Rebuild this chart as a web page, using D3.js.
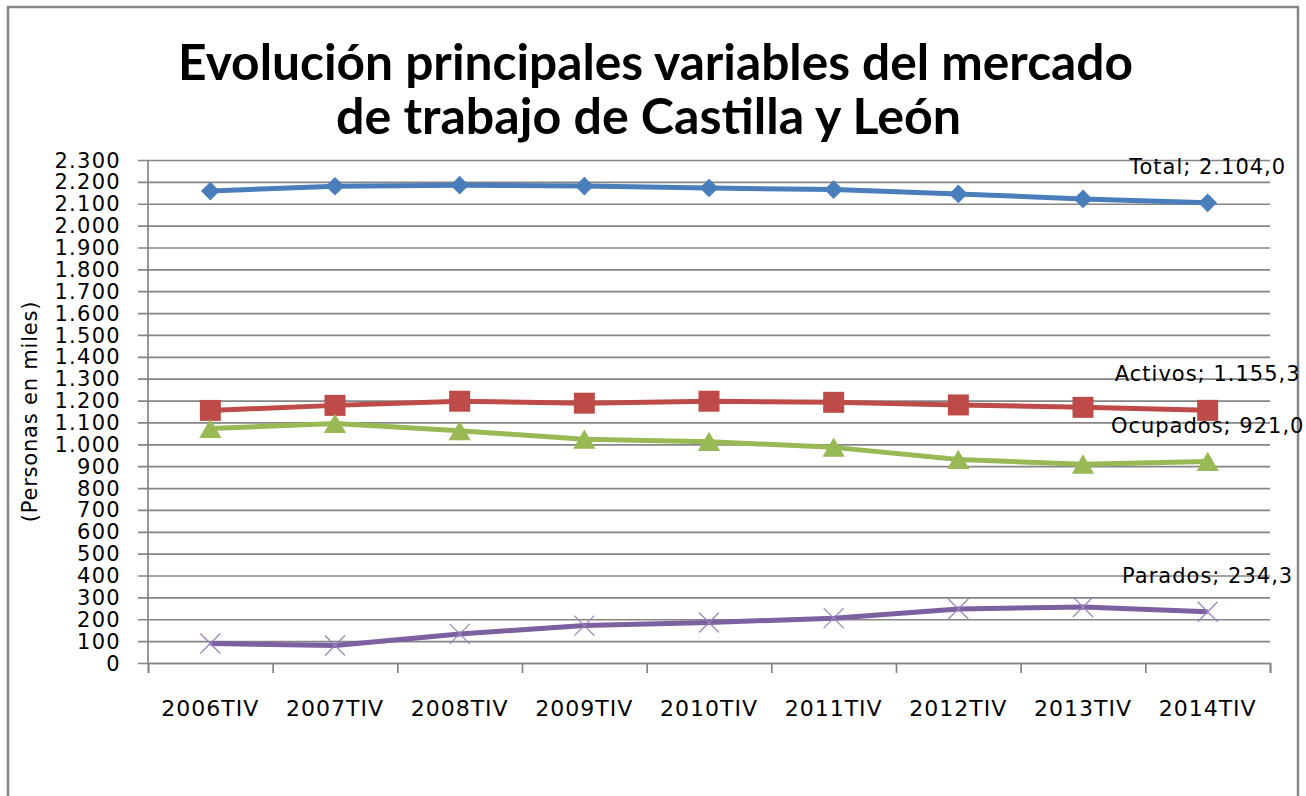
<!DOCTYPE html>
<html>
<head>
<meta charset="utf-8">
<script src="https://cdn.jsdelivr.net/npm/d3@7"></script>
<style>
body { margin: 0; background: #fff; }
text { font-family: "DejaVu Sans", sans-serif; fill: #000; }
</style>
</head>
<body>
<svg id="chart" width="1306" height="796"></svg>
<script>
let categories = ['2006TIV', '2007TIV', '2008TIV', '2009TIV', '2010TIV', '2011TIV', '2012TIV', '2013TIV', '2014TIV']

let total    = [2158, 2180, 2185, 2181, 2172, 2165, 2145, 2122, 2104.0]
let activos  = [1155, 1178, 1197, 1188, 1197, 1192, 1180, 1169, 1155.3]
let ocupados = [1072, 1095, 1062, 1023, 1012, 986, 930, 909, 921.0]
let parados  = [89, 80, 133, 171, 185, 205, 247, 256, 234.3]

let yTicks = d3.range(0, 2301, 100)

let titleLines = ['Evolución principales variables del mercado', 'de trabajo de Castilla y León']
let yTitle = '(Personas en miles)'

const series = [
    { name: 'Total',    values: total,    color: '#4a7ebb', symbol: 'diamond' },
    { name: 'Activos',  values: activos,  color: '#be4b48', symbol: 'square' },
    { name: 'Ocupados', values: ocupados, color: '#98b954', symbol: 'triangle' },
    { name: 'Parados',  values: parados,  color: '#7d60a0', symbol: 'x' }
]

const es = d3.formatLocale({ decimal: ',', thousands: '.', grouping: [3], currency: ['', ' €'] })
const tickFmt = es.format(',')
const labelFmt = es.format(',.1f')

let svg = d3.select('#chart')

const plotLeft = 148, plotRight = 1270, plotTop = 160, plotBottom = 663

// outer frame
svg.append('rect')
    .attr('x', 8).attr('y', 7)
    .attr('width', 1290).attr('height', 820)
    .attr('fill', 'none')
    .attr('stroke', '#878787')
    .attr('stroke-width', 2.5)

// title
svg.selectAll('.title')
    .data(titleLines)
    .enter()
    .append('text')
    .attr('class', 'title')
    .attr('x', (d, i) => i === 0 ? 178 : 336)
    .attr('y', (d, i) => i === 0 ? 80 : 134)
    .attr('textLength', (d, i) => i === 0 ? 955 : 625)
    .attr('lengthAdjust', 'spacingAndGlyphs')
    .style('font-family', 'Lato, sans-serif')
    .style('font-weight', 'bold')
    .style('font-size', '50px')
    .text(d => d)

let x = d3.scaleBand().domain(categories).range([plotLeft, plotRight])
let xEdge = d3.scaleLinear().domain([0, categories.length]).range([plotLeft, plotRight])
let y = d3.scaleLinear().domain([0, 2300]).range([plotBottom, plotTop])

// gridlines (they run through the outside tick marks)
svg.append('g')
    .attr('transform', `translate(${plotRight},0)`)
    .call(d3.axisLeft(y).tickValues(yTicks).tickSize(plotRight - 138).tickFormat(''))
    .call(g => g.select('.domain').remove())
    .call(g => g.selectAll('line').attr('stroke', '#858585').attr('stroke-width', 1.7))

// y axis line + labels
svg.append('line')
    .attr('x1', plotLeft).attr('x2', plotLeft)
    .attr('y1', y(2300)).attr('y2', y(0))
    .attr('stroke', '#858585').attr('stroke-width', 1.7)

svg.append('g')
    .selectAll('text')
    .data(yTicks)
    .enter()
    .append('text')
    .attr('x', 121)
    .attr('y', d => y(d))
    .attr('dy', '0.36em')
    .attr('text-anchor', 'end')
    .style('font-size', '21px')
    .style('letter-spacing', '1.3px')
    .text(d => tickFmt(d))

svg.append('text')
    .attr('transform', `translate(37,${(y(0) + y(2300)) / 2}) rotate(-90)`)
    .attr('text-anchor', 'middle')
    .style('font-size', '21px')
    .style('letter-spacing', '0.8px')
    .text(yTitle)

// x axis
svg.append('g')
    .attr('transform', `translate(0,${plotBottom})`)
    .call(d3.axisBottom(xEdge).tickValues(d3.range(categories.length + 1)).tickSize(10).tickFormat(''))
    .call(g => g.select('.domain').attr('stroke', '#858585').attr('stroke-width', 1.7))
    .call(g => g.selectAll('line').attr('stroke', '#858585').attr('stroke-width', 1.7))

svg.append('g')
    .selectAll('text')
    .data(categories)
    .enter()
    .append('text')
    .attr('x', d => x(d) + x.bandwidth() / 2)
    .attr('y', 716)
    .attr('text-anchor', 'middle')
    .style('font-size', '22px')
    .style('letter-spacing', '1px')
    .text(d => d)

// lines
let line = d3.line()
    .x((d, i) => x(categories[i]) + x.bandwidth() / 2)
    .y(d => y(d))

const symbols = {
    diamond:  { type: d3.symbolSquare,   size: 175, rotate: 45, dy: 0 },
    square:   { type: d3.symbolSquare,   size: 441, rotate: 0,  dy: 0 },
    triangle: { type: d3.symbolTriangle, size: 215, rotate: 0,  dy: 3 },
    x:        { type: d3.symbolX,        size: 263, rotate: 0,  dy: 0 }
}

series.forEach(s => {
    svg.append('path')
        .datum(s.values)
        .attr('d', line)
        .attr('fill', 'none')
        .attr('stroke', s.color)
        .attr('stroke-width', 5)
        .attr('stroke-linejoin', 'round')

    const sym = symbols[s.symbol]
    svg.append('g')
        .selectAll('path')
        .data(s.values)
        .enter()
        .append('path')
        .attr('transform', (d, i) =>
            `translate(${x(categories[i]) + x.bandwidth() / 2},${y(d) + sym.dy}) rotate(${sym.rotate})`)
        .attr('d', d3.symbol(sym.type, sym.size))
        .attr('fill', s.symbol === 'x' ? 'none' : s.color)
        .attr('stroke', s.symbol === 'x' ? '#9883bd' : 'none')
        .attr('stroke-width', 1.2)

    // data label on last point
    const last = s.values.length - 1
    svg.append('text')
        .attr('x', x(categories[last]) + x.bandwidth() / 2)
        .attr('y', y(s.values[last]) - 29)
        .attr('text-anchor', 'middle')
        .style('font-size', '21px')
        .style('letter-spacing', '1px')
        .text(`${s.name}; ${labelFmt(s.values[last])}`)
})
</script>
</body>
</html>
